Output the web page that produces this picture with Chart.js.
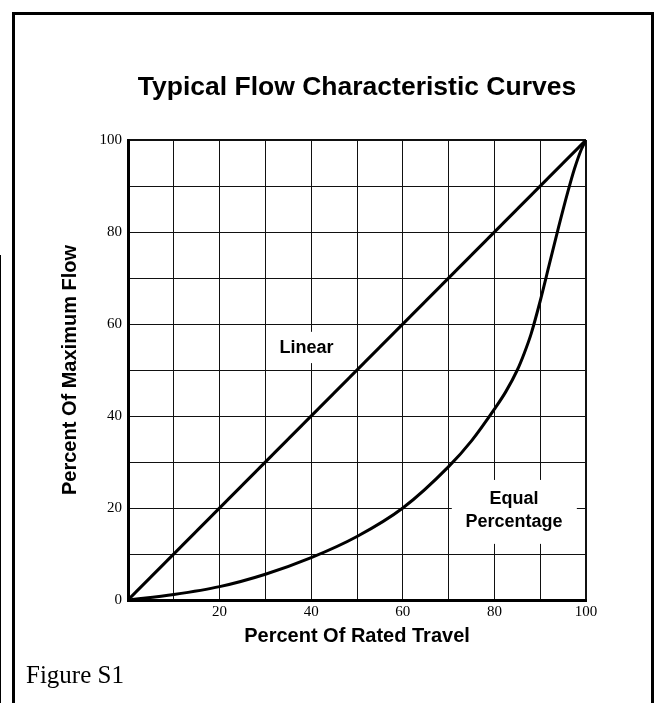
<!DOCTYPE html>
<html>
<head>
<meta charset="utf-8">
<script src="https://cdn.jsdelivr.net/npm/chart.js@4.4.1/dist/chart.umd.min.js"></script>
<style>
  html, body { margin: 0; padding: 0; background: #fff; width: 657px; height: 703px; overflow: hidden; }
  #frame { position: absolute; left: 12px; top: 12px; width: 636px; height: 740px; border: 3px solid #000; }
  #edge { position: absolute; left: 0; top: 255px; width: 1px; height: 460px; background: #000; }
  #wrap { position: absolute; left: 0; top: 0; width: 657px; height: 703px; }
  #fig { position: absolute; left: 26px; top: 662px; font-family: "Liberation Serif", serif; font-size: 25px; line-height: 25px; color: #000; white-space: nowrap; }
</style>
</head>
<body>
<div id="edge"></div>
<div id="frame"></div>
<div id="wrap"><canvas id="c" width="657" height="703"></canvas></div>
<div id="fig">Figure S1</div>
<script>
// ---- data ----
const chartTitle = 'Typical Flow Characteristic Curves';
const xTitle = 'Percent Of Rated Travel';
const yTitle = 'Percent Of Maximum Flow';

const linearTravel = [0, 100];
const linearFlow = [0, 100];

const eqTravel = [0, 10, 20, 30, 40, 50, 60, 70, 75, 80, 82.5, 85, 86.5, 88, 90, 92, 94, 96, 97.5, 99, 100];
const eqFlow   = [0, 1.2, 2.9, 5.6, 9.2, 13.8, 20, 29, 34.6, 41.5, 45.3, 50, 53.6, 57.8, 65, 73, 81, 88.6, 93.8, 98, 100];

const labeledTicks = [0, 20, 40, 60, 80, 100];

const curveLabels = [
  { lines: ['Linear'], box: [32.1, 48.5, 58.3, 51.5], at: [39.0, 54.8] },
  { lines: ['Equal', 'Percentage'], box: [70.7, 98.0, 26.1, 12.2], at: [84.3, 19.4] }
];

const toPoints = (xs, ys) => xs.map((v, i) => ({ x: v, y: ys[i] }));

const labelPlugin = {
  id: 'curveLabels',
  beforeDatasetsDraw(chart) {
    const { ctx, scales: { x, y } } = chart;
    ctx.save();
    curveLabels.forEach(a => {
      const x1 = x.getPixelForValue(a.box[0]), x2 = x.getPixelForValue(a.box[1]);
      const y1 = y.getPixelForValue(a.box[2]), y2 = y.getPixelForValue(a.box[3]);
      ctx.fillStyle = '#fff';
      ctx.fillRect(x1, y1, x2 - x1, y2 - y1);
      ctx.fillStyle = '#000';
      ctx.font = 'bold 18px "Liberation Sans", Arial, sans-serif';
      ctx.textAlign = 'center';
      ctx.textBaseline = 'middle';
      const cx = x.getPixelForValue(a.at[0]);
      const cy = y.getPixelForValue(a.at[1]);
      const n = a.lines.length;
      a.lines.forEach((t, i) => ctx.fillText(t, cx, cy + (i - (n - 1) / 2) * 23));
    });
    ctx.restore();
  }
};

const gridWidth = c => (c.tick && c.tick.value === 100) ? 2 : 1;

new Chart(document.getElementById('c'), {
  type: 'line',
  data: {
    datasets: [
      { label: 'Linear', data: toPoints(linearTravel, linearFlow), borderColor: '#000', borderWidth: 3, pointRadius: 0, fill: false },
      { label: 'Equal Percentage', data: toPoints(eqTravel, eqFlow), borderColor: '#000', borderWidth: 3, pointRadius: 0, fill: false, cubicInterpolationMode: 'monotone' }
    ]
  },
  options: {
    responsive: false,
    devicePixelRatio: 1,
    animation: false,
    layout: { padding: { left: 0, right: 71, top: 0, bottom: 43 } },
    plugins: {
      legend: { display: false },
      tooltip: { enabled: false },
      title: {
        display: true, fullSize: false, text: chartTitle, color: '#000',
        font: { family: '"Liberation Sans", Arial, sans-serif', size: 26.5, weight: 'bold', lineHeight: 1.2 },
        padding: { top: 72.1, bottom: 36.1 }
      }
    },
    scales: {
      x: {
        type: 'linear', position: 'bottom', min: 0, max: 100,
        afterFit(s) { s.height = 60; },
        ticks: {
          stepSize: 10, autoSkip: false, maxRotation: 0, padding: 3, color: '#000',
          font: { family: '"Liberation Serif", serif', size: 15 },
          callback: v => (labeledTicks.includes(v) && v !== 0) ? String(v) : ''
        },
        grid: { color: '#111', lineWidth: gridWidth, drawTicks: false },
        border: { color: '#000', width: 3 },
        title: {
          display: true, text: xTitle, color: '#000',
          font: { family: '"Liberation Sans", Arial, sans-serif', size: 20, weight: 'bold', lineHeight: 1.2 },
          padding: { top: 0, bottom: 12 }
        }
      },
      y: {
        type: 'linear', position: 'left', min: 0, max: 100,
        afterFit(s) { s.width = 128; },
        ticks: {
          stepSize: 10, autoSkip: false, padding: 6, color: '#000',
          font: { family: '"Liberation Serif", serif', size: 15 },
          callback: v => labeledTicks.includes(v) ? String(v) : ''
        },
        grid: { color: '#111', lineWidth: gridWidth, drawTicks: false },
        border: { color: '#000', width: 3 },
        title: {
          display: true, text: yTitle, color: '#000',
          font: { family: '"Liberation Sans", Arial, sans-serif', size: 20, weight: 'bold', lineHeight: 1.2 },
          padding: { top: 58, bottom: 0 }
        }
      }
    }
  },
  plugins: [labelPlugin]
});
</script>
</body>
</html>
